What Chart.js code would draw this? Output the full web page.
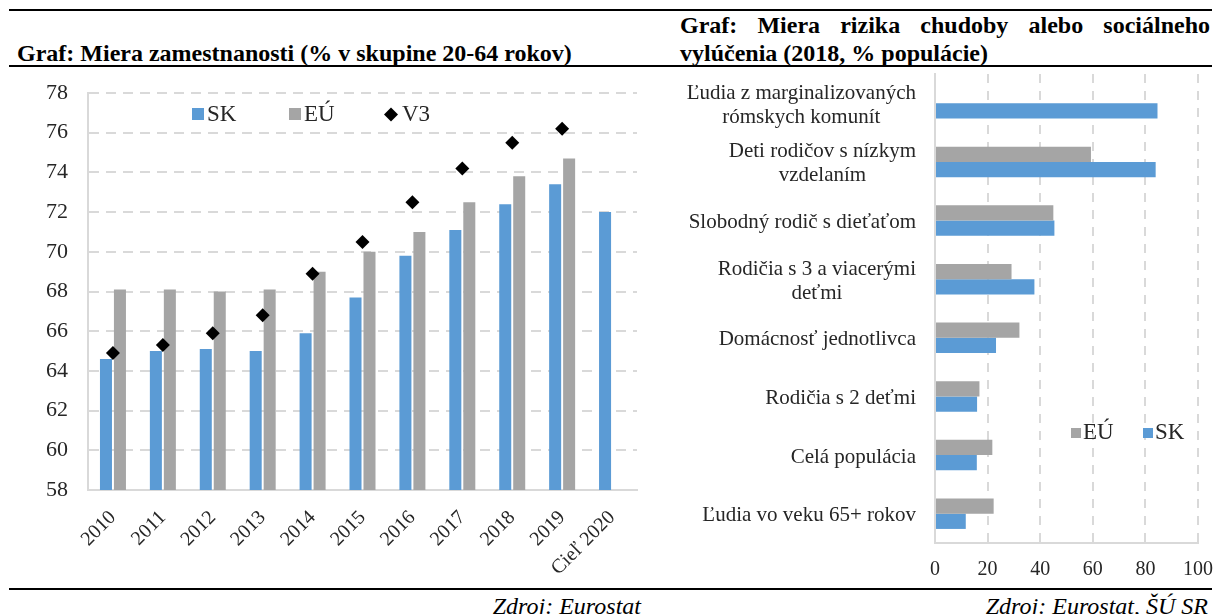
<!DOCTYPE html>
<html><head><meta charset="utf-8">
<script src="https://cdn.jsdelivr.net/npm/chart.js@4.4.1/dist/chart.umd.min.js"></script>
<style>
html,body{margin:0;padding:0;background:#fff;width:1218px;height:614px;overflow:hidden;position:relative;font-family:"Liberation Serif","Times New Roman",serif;}
.hl{position:absolute;left:9px;width:1203px;height:2px;background:#000;}
.t{position:absolute;font-weight:bold;font-size:24px;color:#000;line-height:28px;white-space:nowrap}
.src{position:absolute;font-style:italic;font-size:24px;line-height:28px;white-space:nowrap;color:#000}
canvas{position:absolute}
</style></head><body>
<div class="hl" style="top:9px"></div>
<div class="hl" style="top:65px"></div>
<div class="hl" style="top:588px"></div>
<div class="t" style="left:17px;top:39px">Graf: Miera zamestnanosti (% v skupine 20-64 rokov)</div>
<div class="t" style="left:680px;top:11px;width:530px;white-space:normal;text-align:justify;text-align-last:justify;">Graf: Miera rizika chudoby alebo sociálneho</div>
<div class="t" style="left:680px;top:39px">vylúčenia (2018, % populácie)</div>
<div class="src" style="right:577px;top:592px">Zdroj: Eurostat</div>
<div class="src" style="right:10px;top:592px">Zdroj: Eurostat, ŠÚ SR</div>
<canvas id="c1" width="650" height="518" style="left:0;top:70px"></canvas>
<canvas id="c2" width="558" height="520" style="left:660px;top:66px"></canvas>
<script>
// ---- Left chart data ----
const years = ['2010','2011','2012','2013','2014','2015','2016','2017','2018','2019','Cieľ 2020'];
const skEmp = [64.6, 65.0, 65.1, 65.0, 65.9, 67.7, 69.8, 71.1, 72.4, 73.4, 72.0];
const euEmp = [68.1, 68.1, 68.0, 68.1, 69.0, 70.0, 71.0, 72.5, 73.8, 74.7, null];
const v3Emp = [64.9, 65.3, 65.9, 66.8, 68.9, 70.5, 72.5, 74.2, 75.5, 76.2, null];
const empMin = 58, empMax = 78, empStep = 2;

// ---- Right chart data ----
const groups = [
  ['Ľudia z marginalizovaných','rómskych komunít'],
  ['Deti rodičov s nízkym','vzdelaním'],
  ['Slobodný rodič s dieťaťom'],
  ['Rodičia s 3 a viacerými','deťmi'],
  ['Domácnosť jednotlivca'],
  ['Rodičia s 2 deťmi'],
  ['Celá populácia'],
  ['Ľudia vo veku 65+ rokov']
];
const euRisk = [null, 59.3, 45.0, 29.1, 32.1, 16.9, 21.8, 22.3];
const skRisk = [84.6, 83.9, 45.4, 37.8, 23.2, 16.0, 15.9, 11.7];
const riskMin = 0, riskMax = 100, riskStep = 20;

const BLUE = '#5b9bd5', GRAY = '#a5a5a5', GRID = '#d9d9d9', TXT = '#262626';
const FONT = '"Liberation Serif", "Times New Roman", serif';

const legend1 = {
  id: 'legend1',
  afterDraw(chart) {
    const ctx = chart.ctx;
    ctx.save();
    ctx.font = '23px ' + FONT;
    ctx.textBaseline = 'middle';
    ctx.fillStyle = BLUE; ctx.fillRect(192, 38, 12, 12);
    ctx.fillStyle = GRAY; ctx.fillRect(289, 38, 12, 12);
    ctx.fillStyle = '#000';
    ctx.beginPath(); ctx.moveTo(391, 37.5); ctx.lineTo(398, 44.5); ctx.lineTo(391, 51.5); ctx.lineTo(384, 44.5); ctx.closePath(); ctx.fill();
    ctx.fillStyle = TXT;
    ctx.fillText(chart.data.datasets[0].label, 207, 45);
    ctx.fillText(chart.data.datasets[1].label, 304, 45);
    ctx.fillText(chart.data.datasets[2].label, 402, 45);
    ctx.restore();
  }
};

new Chart(document.getElementById('c1'), {
  type: 'bar',
  data: {
    labels: years,
    datasets: [
      {label: 'SK', data: skEmp, backgroundColor: BLUE, categoryPercentage: 0.56, barPercentage: 0.86},
      {label: 'EÚ', data: euEmp, backgroundColor: GRAY, categoryPercentage: 0.56, barPercentage: 0.86},
      {type: 'line', label: 'V3', data: v3Emp, showLine: false, pointStyle: 'rectRot', pointRadius: 7,
       backgroundColor: '#000', borderColor: '#000', borderWidth: 0, order: -1}
    ]
  },
  options: {
    responsive: false, animation: false,
    layout: {padding: {left: 0, right: 13, top: 23, bottom: 0}},
    plugins: {legend: {display: false}, tooltip: {enabled: false}},
    scales: {
      x: {
        grid: {display: false},
        border: {display: true, color: GRID, width: 2},
        ticks: {minRotation: 45, maxRotation: 45, padding: 8, color: TXT, font: {family: FONT, size: 20}},
        afterFit: s => { s.height = 98; s.paddingRight = 0; }
      },
      y: {
        min: empMin, max: empMax,
        ticks: {stepSize: empStep, padding: 20, color: TXT, font: {family: FONT, size: 22}},
        grid: {color: GRID, lineWidth: 2, drawTicks: false},
        border: {display: true, color: GRID, width: 2, dash: [10, 7]},
        afterFit: s => { s.width = 88; s.paddingTop = 0; s.paddingBottom = 0; }
      }
    }
  },
  plugins: [legend1]
});

const catLabels = {
  id: 'catLabels',
  afterDraw(chart) {
    const ctx = chart.ctx, ys = chart.scales.y;
    ctx.save();
    ctx.font = '21px ' + FONT;
    ctx.fillStyle = TXT;
    ctx.textAlign = 'center';
    ctx.textBaseline = 'middle';
    const right = ys.right - 19, lh = 24;
    chart.data.labels.forEach((lab, i) => {
      const lines = Array.isArray(lab) ? lab : [lab];
      const w = Math.max(...lines.map(l => ctx.measureText(l).width));
      const y = ys.getPixelForTick(i) + 2;
      lines.forEach((l, j) => ctx.fillText(l, right - w / 2, y + (j - (lines.length - 1) / 2) * lh));
    });
    ctx.restore();
  }
};
const legend2 = {
  id: 'legend2',
  afterDraw(chart) {
    const ctx = chart.ctx;
    ctx.save();
    ctx.font = '23px ' + FONT;
    ctx.textBaseline = 'middle';
    ctx.fillStyle = GRAY; ctx.fillRect(411, 362, 10, 10);
    ctx.fillStyle = BLUE; ctx.fillRect(483, 362, 10, 10);
    ctx.fillStyle = TXT;
    ctx.fillText(chart.data.datasets[0].label, 423, 367);
    ctx.fillText(chart.data.datasets[1].label, 495, 367);
    ctx.restore();
  }
};

new Chart(document.getElementById('c2'), {
  type: 'bar',
  data: {
    labels: groups,
    datasets: [
      {label: 'EÚ', data: euRisk, backgroundColor: GRAY, categoryPercentage: 0.52, barPercentage: 1.0},
      {label: 'SK', data: skRisk, backgroundColor: BLUE, categoryPercentage: 0.52, barPercentage: 1.0}
    ]
  },
  options: {
    indexAxis: 'y',
    responsive: false, animation: false,
    layout: {padding: {left: 0, right: 20, top: 8, bottom: 0}},
    plugins: {legend: {display: false}, tooltip: {enabled: false}},
    scales: {
      x: {
        min: riskMin, max: riskMax,
        ticks: {stepSize: riskStep, padding: 15, color: TXT, font: {family: FONT, size: 20}},
        grid: {color: GRID, lineWidth: 2, drawTicks: false},
        border: {display: true, color: GRID, width: 2, dash: [9, 8]},
        afterFit: s => { s.height = 43; s.paddingRight = 0; s.paddingLeft = 0; }
      },
      y: {
        grid: {display: false},
        ticks: {display: false},
        border: {display: true, color: GRID, width: 2},
        afterFit: s => { s.width = 275; s.paddingTop = 0; s.paddingBottom = 0; }
      }
    }
  },
  plugins: [catLabels, legend2]
});
</script>
</body></html>
